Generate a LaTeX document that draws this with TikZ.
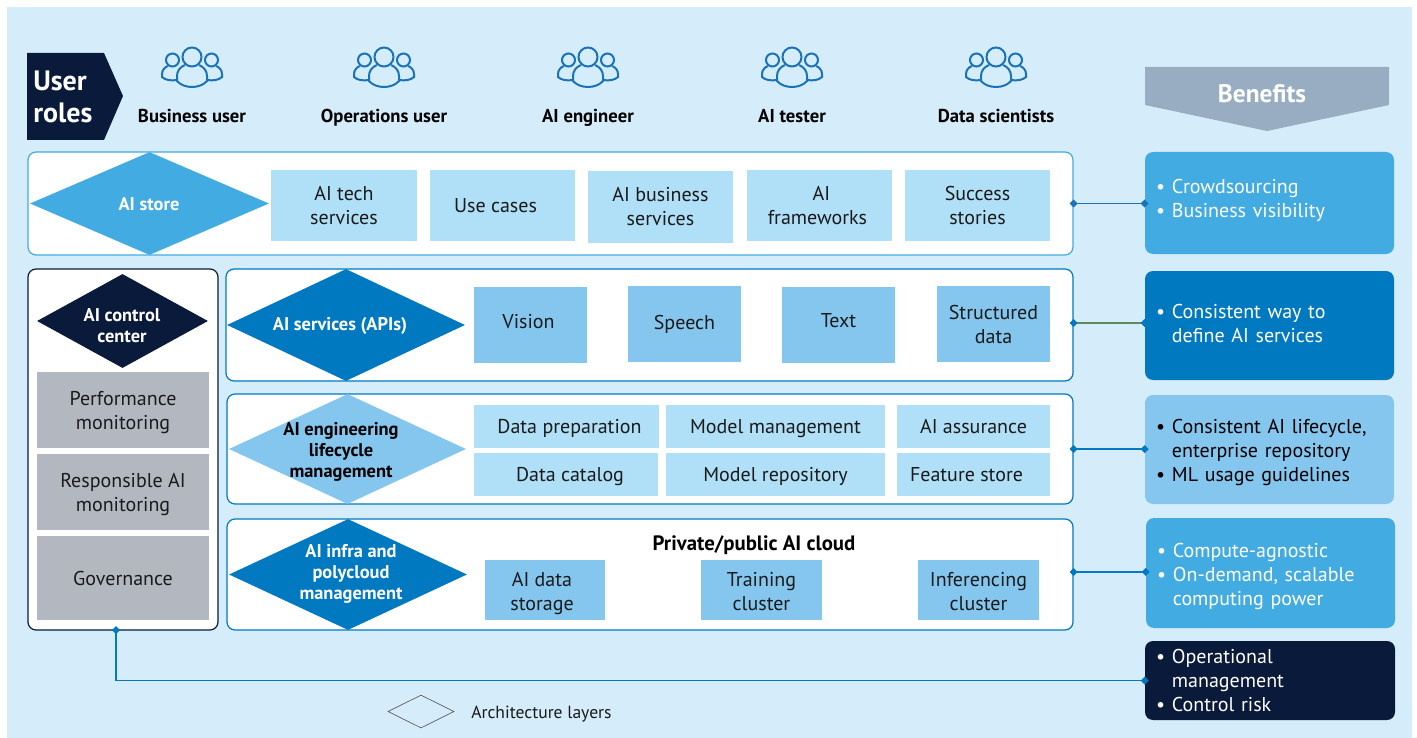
\documentclass[tikz,border=0pt]{standalone}
\usepackage{fontspec}
\setmainfont{PT Sans}
\usetikzlibrary{positioning}
\usetikzlibrary{shapes.geometric}
\usetikzlibrary{arrows.meta}
\usepackage{xcolor}
\definecolor{pagebg}{HTML}{D5EDFA}
\definecolor{navy}{HTML}{0A1A3A}
\definecolor{midblue}{HTML}{0079C1}
\definecolor{skyblue}{HTML}{42ACE2}
\definecolor{softblue}{HTML}{85C6EE}
\definecolor{paleblue}{HTML}{B0E0F7}
\definecolor{greybox}{HTML}{B3B8C0}
\definecolor{slate}{HTML}{98ADC2}
\definecolor{icon}{HTML}{1A73B8}
\definecolor{ink}{HTML}{1A1A1A}
\definecolor{moss}{HTML}{5C8A5A}
\newcommand{\bul}{\makebox[8.2pt][l]{\kern-3.7pt\textbullet}}
\tikzset{
	size/.style 2 args = {minimum width=#1*0.75pt, minimum height=#2*0.75pt},
	panel/.style = {draw, fill=white, line width=0.9pt, rounded corners=6pt, inner sep=0pt},
	layer/.style = {diamond, inner sep=0pt},
	layertext/.style = {inner sep=0pt, align=center, font=\fontsize{13.8}{15.75}\selectfont\bfseries},
	tile/.style = {inner sep=0pt, align=center, text=ink, font=\fontsize{15}{18}\selectfont},
	benefit/.style = {rounded corners=6pt, inner xsep=12pt, inner ysep=0pt, text width=#1*0.75pt-24pt, align=left, font=\fontsize{15}{18}\selectfont},
	role/.style = {font=\fontsize{14}{16}\selectfont\bfseries, text=black, text height=11pt, text depth=3pt},
	link/.style = {line width=0.9pt, {Diamond[length=6pt,width=6pt]}-{Diamond[length=6pt,width=6pt]}, shorten <=-3pt, shorten >=-3pt},
	usergroup/.pic = {
		\draw[icon, line width=1.5pt] (0,-11) circle (9.5);
		\draw[icon, line width=1.5pt] (-7,-3) .. controls (-12,-1) and (-15,3) .. (-15,8) -- (-15,13) .. controls (-8,21) and (8,21) .. (15,13) -- (15,8) .. controls (15,3) and (12,-1) .. (7,-3);
		\foreach \s in {-1,1} {
			\draw[icon, line width=1.5pt] ({\s*19.5},-8) circle (6.5);
			\draw[icon, line width=1.5pt] ({\s*24},-2) .. controls ({\s*27},-1) and ({\s*30},2) .. ({\s*30},6) -- ({\s*30},9) .. controls ({\s*27},12) and ({\s*21},13) .. ({\s*15},12);
		}
	}
}
\begin{document}
\begin{tikzpicture}[x=0.75pt, y=-0.75pt]
	\useasboundingbox (0,0) rectangle (1417,738);
	\fill[pagebg] (7,7) rectangle (1412,738);

	% user roles
	\fill[navy] (27,53) -- (104,53) -- (123,96) -- (104,140) -- (27,140) -- cycle;
	\node[text=white, align=left, anchor=west, inner sep=0pt, font=\fontsize{21}{24}\selectfont\bfseries] (roles) at (33,97) {User\\roles};
	\foreach \n/\x/\t in {r1/192/Business user, r2/384/Operations user, r3/588/AI engineer, r4/792/AI tester, r5/996/Data scientists} {
		\pic at ({\x},68) {usergroup};
		\node[role] (\n) at (\x,117.5) {\t};
	}

	% benefits header
	\fill[slate] (1145,67) -- (1389,67) -- (1389,105) -- (1267,131) -- (1145,105) -- cycle;
	\node[text=white, font=\fontsize{19}{22}\selectfont\bfseries] (head) at (1262,94) {Benefits};

	% panels
	\node[panel, draw=skyblue, size={1045}{103}] (p1) at (550.5,203.5) {};
	\node[panel, draw=navy, size={190}{361}] (p2) at (123,449.5) {};
	\node[panel, draw=midblue, size={847}{112}] (p3) at (649.5,325) {};
	\node[panel, draw=midblue, size={846}{110}] (p4) at (650,449) {};
	\node[panel, draw=midblue, size={846}{111}] (p5) at (650,574.5) {};

	% layers
	\node[layer, fill=skyblue, size={239}{103}] (d1) at (149.5,203.5) {};
	\node[layertext, text=white] (t1) at (149,204) {AI store};
	\node[layer, fill=navy, size={171}{94}] (d2) at (122.5,321) {};
	\node[layertext, text=white] (t2) at (122,325.5) {AI control\\center};
	\node[layer, fill=midblue, size={238}{112}] (d3) at (346,325) {};
	\node[layertext, text=white] (t3) at (340,326) {AI services (APIs)};
	\node[layer, fill=softblue, size={237}{110}] (d4) at (347.5,449) {};
	\node[layertext, text=black] (t4) at (341,452) {AI engineering\\lifecycle\\management};
	\node[layer, fill=midblue, size={238}{111}] (d5) at (348,574.5) {};
	\node[layertext, text=white] (t5) at (351,573.5) {AI infra and\\polycloud\\management};

	% store tiles
	\node[tile, fill=paleblue, size={146}{71}] (s1) at (344,205.5) {AI tech\\services};
	\node[tile, fill=paleblue, size={145}{71}] (s2) at (502.5,205.5) {Use cases\kern10.5pt};
	\node[tile, fill=paleblue, size={145}{72}] (s3) at (660.5,207) {AI business\\services};
	\node[tile, fill=paleblue, size={145}{71}] (s4) at (819.5,205.5) {AI\kern-3pt\\frameworks\kern3pt};
	\node[tile, fill=paleblue, size={145}{71}] (s5) at (977.5,205.5) {Success\\stories};

	% control center tiles
	\node[tile, fill=greybox, size={172}{76}, text height=33pt] (c1) at (123,410) {Performance\\monitoring};
	\node[tile, fill=greybox, size={172}{76}, text height=33pt] (c2) at (123,492) {Responsible AI\\monitoring};
	\node[tile, fill=greybox, size={172}{84}] (c3) at (123,578) {Governance};

	% service tiles
	\node[tile, fill=softblue, size={113}{76}, text depth=6pt] (v1) at (530.5,325) {Vision\kern3pt};
	\node[tile, fill=softblue, size={113}{76}] (v2) at (684.5,324) {Speech};
	\node[tile, fill=softblue, size={113}{76}, text depth=7.5pt] (v3) at (838.5,325) {Text};
	\node[tile, fill=softblue, size={113}{76}] (v4) at (993.5,324) {Structured\\data};

	% lifecycle tiles
	\node[tile, fill=paleblue, size={185}{43}, text depth=0pt] (e1) at (566.5,426.5) {\kern4.5pt Data preparation};
	\node[tile, fill=paleblue, size={219}{43}, text depth=0pt] (e2) at (775.5,426.5) {Model management};
	\node[tile, fill=paleblue, size={153}{43}] (e3) at (973.5,426.5) {AI assurance};
	\node[tile, fill=paleblue, size={184}{43}, text depth=0pt] (e4) at (566,474.5) {\kern6pt Data catalog};
	\node[tile, fill=paleblue, size={219}{43}, text depth=0pt] (e5) at (775.5,474.5) {Model repository};
	\node[tile, fill=paleblue, size={153}{43}] (e6) at (973.5,474.5) {Feature store\kern10.5pt};

	% infra tiles
	\node[font=\fontsize{15.6}{18}\selectfont\bfseries, text=black] (cloud) at (754,545) {Private/public AI cloud};
	\node[tile, fill=softblue, size={120}{60}, text height=34.5pt] (i1) at (545,590) {AI data\kern4.5pt\\storage\kern4.5pt};
	\node[tile, fill=softblue, size={121}{60}, text height=31.5pt] (i2) at (761.5,590) {Training\\cluster};
	\node[tile, fill=softblue, size={121}{60}, text height=31.5pt] (i3) at (978.5,590) {Inferencing\\cluster};

	% benefit boxes
	\node[benefit=249, fill=skyblue, text=white, size={249}{102}, text depth=25.4pt] (b1) at (1269.5,203) {\bul Crowdsourcing\\\bul Business visibility};
	\node[benefit=249, fill=midblue, text=white, size={249}{109}, text depth=21.5pt] (b2) at (1269.5,325.5) {\bul Consistent way to\\\hspace*{8.2pt}define AI services};
	\node[benefit=249, fill=softblue, text=black, size={249}{109}, text depth=35pt] (b3) at (1269.5,449.5) {\bul Consistent AI lifecycle,\\\hspace*{8.2pt}enterprise repository\\\bul ML usage guidelines};
	\node[benefit=249, fill=skyblue, text=white, size={249}{110}, text depth=33.5pt] (b4) at (1270.5,573) {\bul Compute-agnostic\\\bul On-demand, scalable\\\hspace*{8.2pt}computing power};
	\node[benefit=250, fill=navy, text=white, size={250}{79}] (b5) at (1270,680.5) {\bul Operational\\\hspace*{8.2pt}management\\\bul Control risk};

	% links
	\coordinate (l3) at ([yshift=1.5pt]p3.east);
	\coordinate (l5) at ([yshift=1.9pt]p5.east);
	\coordinate (c0) at (116,630);
	\draw[link, draw=icon] (p1.east) -- (p1.east -| b1.west);
	\draw[line width=0.9pt, moss, {Diamond[length=6pt,width=6pt,color=midblue]}-{Diamond[length=6pt,width=6pt,color=midblue]}, shorten <=-3pt, shorten >=-3pt] (l3) -- (l3 -| b2.west);
	\draw[link, draw=midblue] (p4.east) -- (p4.east -| b3.west);
	\draw[link, draw=midblue] (l5) -- (l5 -| b4.west);
	\draw[link, draw=midblue] (c0) |- (b5.west);

	% legend
	\node[layer, draw=black!65, line width=0.5pt, size={66}{33}] (leg) at (421,711.5) {};
	\node[anchor=west, inner sep=0pt, text=ink, font=\fontsize{13.2}{15}\selectfont] (legtext) at (471,714) {Architecture layers};
\end{tikzpicture}
\end{document}
